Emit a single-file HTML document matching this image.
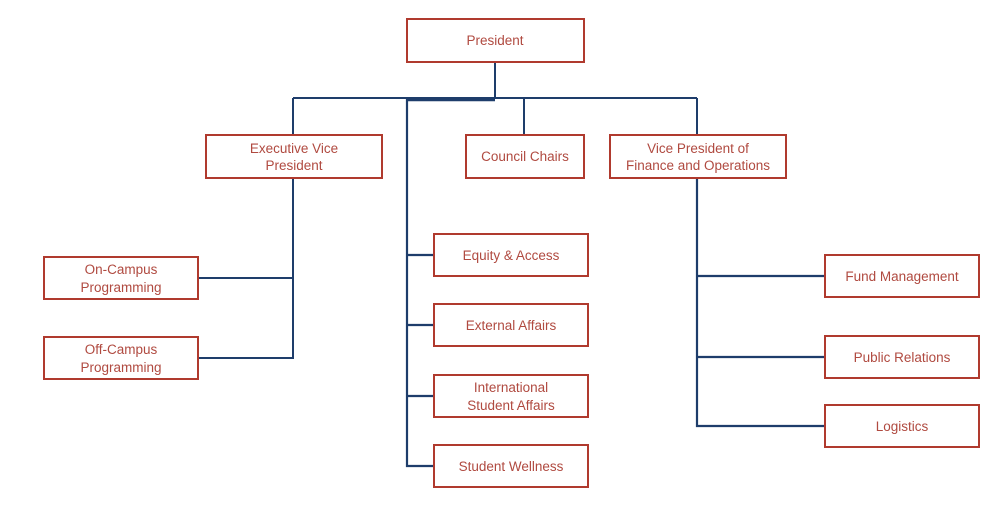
<!DOCTYPE html>
<html><head><meta charset="utf-8"><style>
html,body{margin:0;padding:0;background:#fff;}
svg{display:block;}
text{font-family:"Liberation Sans",sans-serif;font-size:13.5px;fill:#b04a40;text-anchor:middle;}
</style></head><body>
<svg width="1000" height="529" viewBox="0 0 1000 529">
<g stroke="#1e3d6b" stroke-width="2" fill="none">
<path d="M495 62V98"/>
<path d="M293 98H697"/>
<path d="M407 100H495" stroke-width="2.5"/>
<path d="M293 98V135M524 98V135M697 98V135"/>
<path d="M407 98V466H434M407 255H434M407 325H434M407 396H434" stroke-width="2.2"/>
<path d="M293 178V358H198M293 278H198"/>
<path d="M697 178V426H825M697 276H825M697 357H825" stroke-width="2.2"/>
</g>
<g stroke="#b03a2e" stroke-width="2" fill="#fff">
<rect x="407" y="19" width="177" height="43"/>
<rect x="206" y="135" width="176" height="43"/>
<rect x="466" y="135" width="118" height="43"/>
<rect x="610" y="135" width="176" height="43"/>
<rect x="44" y="257" width="154" height="42"/>
<rect x="44" y="337" width="154" height="42"/>
<rect x="434" y="234" width="154" height="42"/>
<rect x="434" y="304" width="154" height="42"/>
<rect x="434" y="375" width="154" height="42"/>
<rect x="434" y="445" width="154" height="42"/>
<rect x="825" y="255" width="154" height="42"/>
<rect x="825" y="336" width="154" height="42"/>
<rect x="825" y="405" width="154" height="42"/>
</g>
<text x="495" y="45">President</text>
<text x="294" y="153">Executive Vice</text>
<text x="294" y="170">President</text>
<text x="525" y="161">Council Chairs</text>
<text x="698" y="153">Vice President of</text>
<text x="698" y="170">Finance and Operations</text>
<text x="121" y="274">On-Campus</text>
<text x="121" y="292">Programming</text>
<text x="121" y="354">Off-Campus</text>
<text x="121" y="372">Programming</text>
<text x="511" y="260">Equity &amp; Access</text>
<text x="511" y="330">External Affairs</text>
<text x="511" y="392">International</text>
<text x="511" y="410">Student Affairs</text>
<text x="511" y="471">Student Wellness</text>
<text x="902" y="281">Fund Management</text>
<text x="902" y="362">Public Relations</text>
<text x="902" y="431">Logistics</text>
</svg>
</body></html>
